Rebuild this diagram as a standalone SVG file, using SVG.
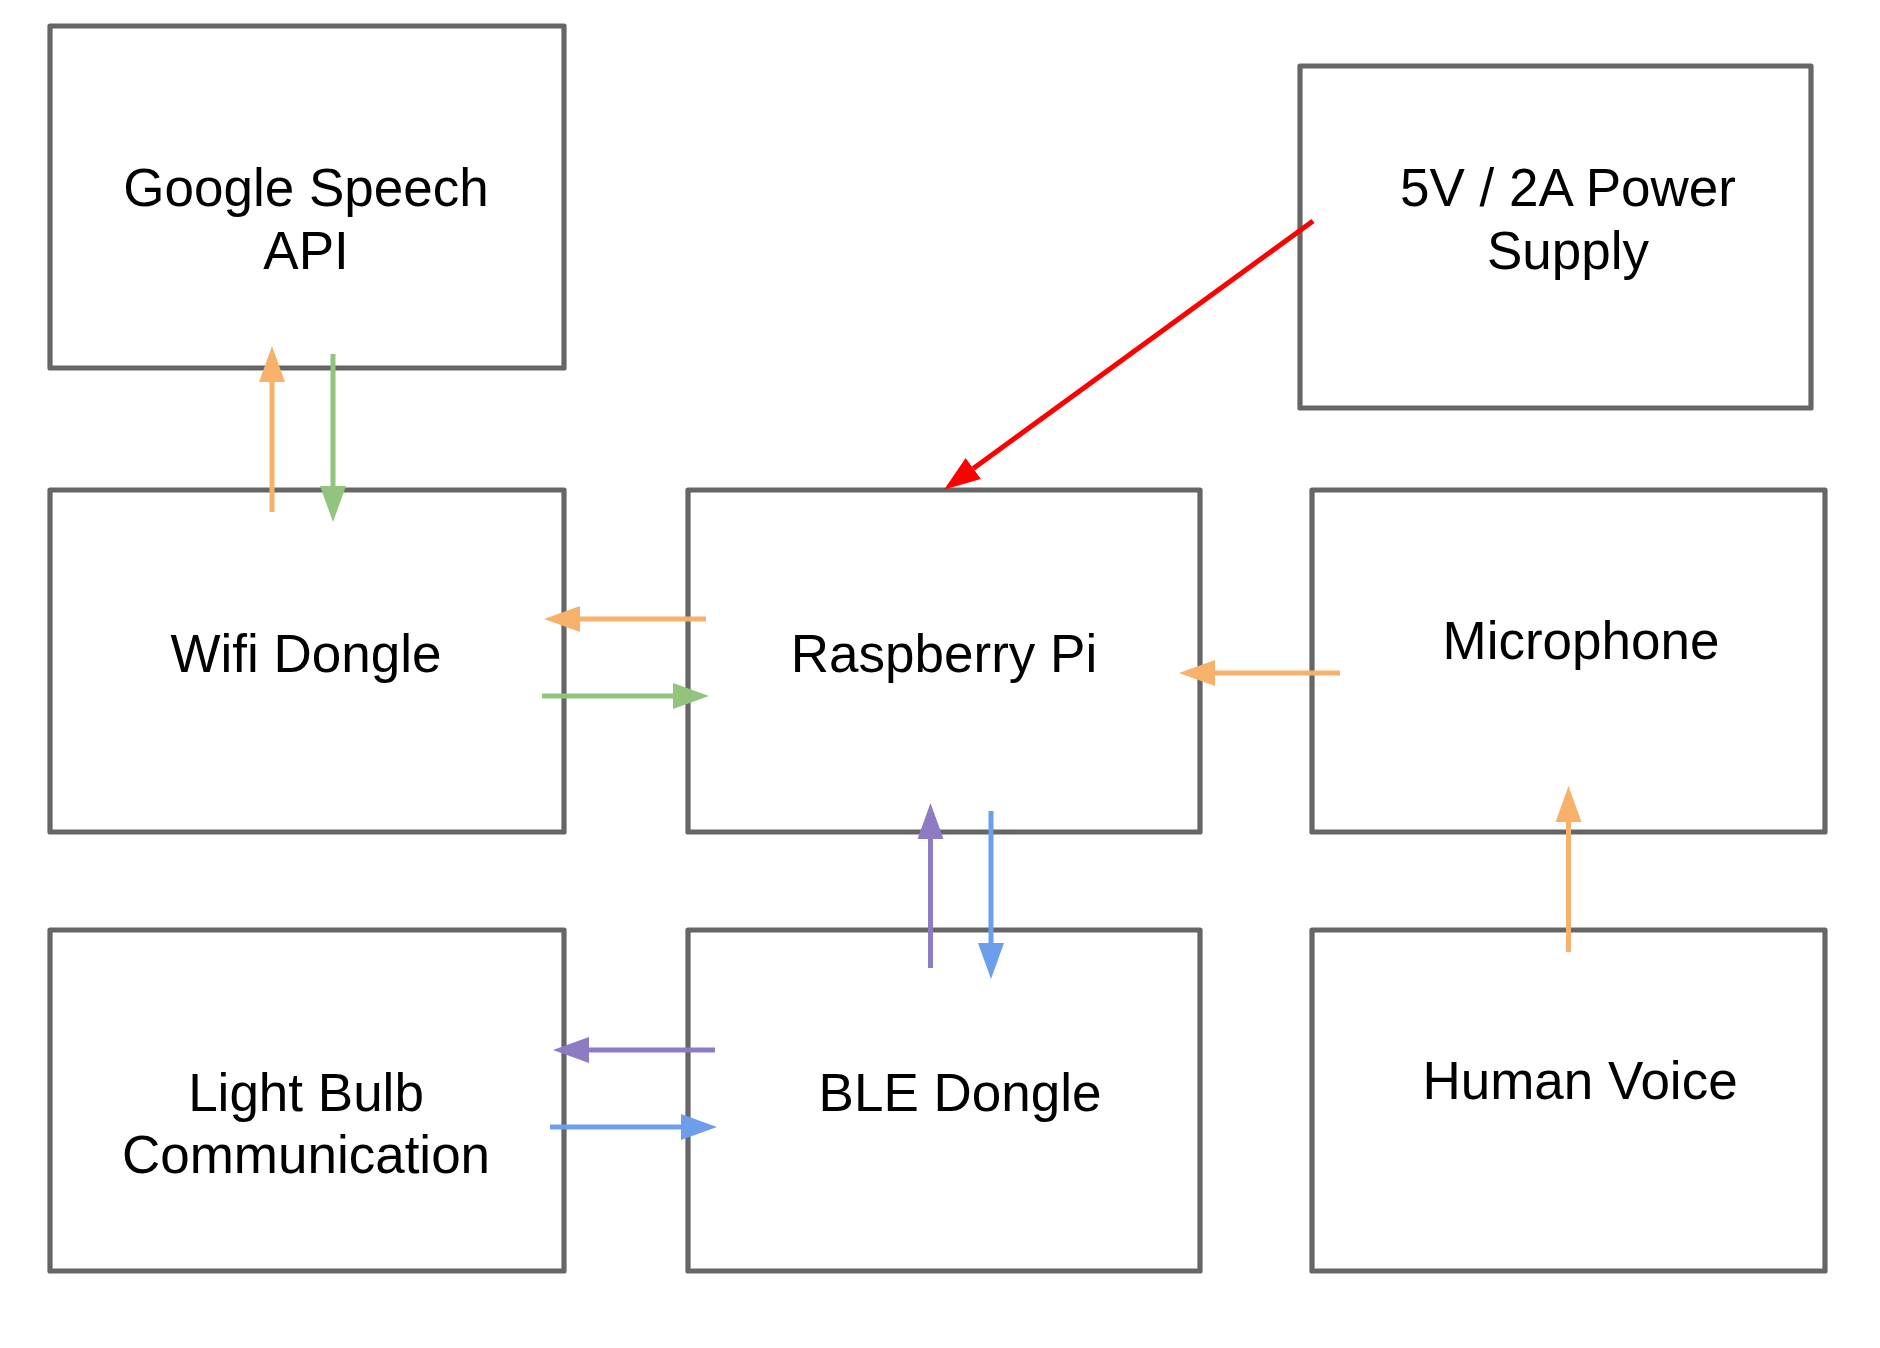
<svg xmlns="http://www.w3.org/2000/svg" width="1880" height="1348" viewBox="0 0 1880 1348">
<style>
.box{fill:#ffffff;stroke:#666666;stroke-width:5.2;stroke-linejoin:round}
.lbl{font-family:"Liberation Sans",Arial,sans-serif;font-size:53px;fill:#000000;text-anchor:middle}
.c{fill:none;stroke-width:5;stroke-linecap:butt}
.or{stroke:#f6b26b}.gr{stroke:#93c47d}.pu{stroke:#8e7cc3}.bl{stroke:#6d9eeb}.rd{stroke:#ff0000}
</style>
<defs>
<marker id="hOr" markerUnits="userSpaceOnUse" viewBox="0 -14 37 28" refX="0" refY="0" markerWidth="37" markerHeight="28" orient="auto"><path d="M0,-13 L36,0 L0,13 Z" fill="#f6b26b"/></marker>
<marker id="hGr" markerUnits="userSpaceOnUse" viewBox="0 -14 37 28" refX="0" refY="0" markerWidth="37" markerHeight="28" orient="auto"><path d="M0,-13 L36,0 L0,13 Z" fill="#93c47d"/></marker>
<marker id="hPu" markerUnits="userSpaceOnUse" viewBox="0 -14 37 28" refX="0" refY="0" markerWidth="37" markerHeight="28" orient="auto"><path d="M0,-13 L36,0 L0,13 Z" fill="#8e7cc3"/></marker>
<marker id="hBl" markerUnits="userSpaceOnUse" viewBox="0 -14 37 28" refX="0" refY="0" markerWidth="37" markerHeight="28" orient="auto"><path d="M0,-13 L36,0 L0,13 Z" fill="#6d9eeb"/></marker>
<marker id="hRd" markerUnits="userSpaceOnUse" viewBox="0 -14 37 28" refX="0" refY="0" markerWidth="37" markerHeight="28" orient="auto"><path d="M0,-13 L36,0 L0,13 Z" fill="#ff0000"/></marker>
</defs>
<rect width="1880" height="1348" fill="#ffffff"/>
<g id="google-speech-api">
<rect class="box" x="50" y="26" width="514" height="342"/>
<text class="lbl" x="306" y="206">Google Speech</text>
<text class="lbl" x="306" y="268.5">API</text>
</g>
<g id="power-supply">
<rect class="box" x="1300" y="66" width="511" height="342"/>
<text class="lbl" x="1568" y="206">5V / 2A Power</text>
<text class="lbl" x="1568" y="268.5">Supply</text>
</g>
<g id="wifi-dongle">
<rect class="box" x="50" y="490" width="514" height="342"/>
<text class="lbl" x="306" y="671.5">Wifi Dongle</text>
</g>
<g id="raspberry-pi">
<rect class="box" x="688" y="490" width="512" height="342"/>
<text class="lbl" x="944" y="671.5">Raspberry Pi</text>
</g>
<g id="microphone">
<rect class="box" x="1312" y="490" width="513" height="342"/>
<text class="lbl" x="1581" y="659">Microphone</text>
</g>
<g id="light-bulb-communication">
<rect class="box" x="50" y="930" width="514" height="341"/>
<text class="lbl" x="306" y="1110.5">Light Bulb</text>
<text class="lbl" x="306" y="1172.5">Communication</text>
</g>
<g id="ble-dongle">
<rect class="box" x="688" y="930" width="512" height="341"/>
<text class="lbl" x="960" y="1110.5">BLE Dongle</text>
</g>
<g id="human-voice">
<rect class="box" x="1312" y="930" width="513" height="341"/>
<text class="lbl" x="1580" y="1099">Human Voice</text>
</g>
<g id="connectors">
<line class="c or" x1="272" y1="512" x2="272" y2="382" marker-end="url(#hOr)"/>
<line class="c gr" x1="333" y1="354" x2="333" y2="486" marker-end="url(#hGr)"/>
<line class="c or" x1="706" y1="619" x2="580" y2="619" marker-end="url(#hOr)"/>
<line class="c gr" x1="542" y1="696" x2="673" y2="696" marker-end="url(#hGr)"/>
<line class="c or" x1="1340" y1="673" x2="1215" y2="673" marker-end="url(#hOr)"/>
<line class="c or" x1="1568.5" y1="952" x2="1568.5" y2="822" marker-end="url(#hOr)"/>
<line class="c pu" x1="930.5" y1="968" x2="930.5" y2="839" marker-end="url(#hPu)"/>
<line class="c bl" x1="991" y1="811" x2="991" y2="943" marker-end="url(#hBl)"/>
<line class="c pu" x1="715" y1="1050" x2="589" y2="1050" marker-end="url(#hPu)"/>
<line class="c bl" x1="550" y1="1127" x2="681" y2="1127" marker-end="url(#hBl)"/>
<line class="c rd" x1="1313" y1="221" x2="973.3" y2="468.4" marker-end="url(#hRd)"/>
</g>
</svg>
